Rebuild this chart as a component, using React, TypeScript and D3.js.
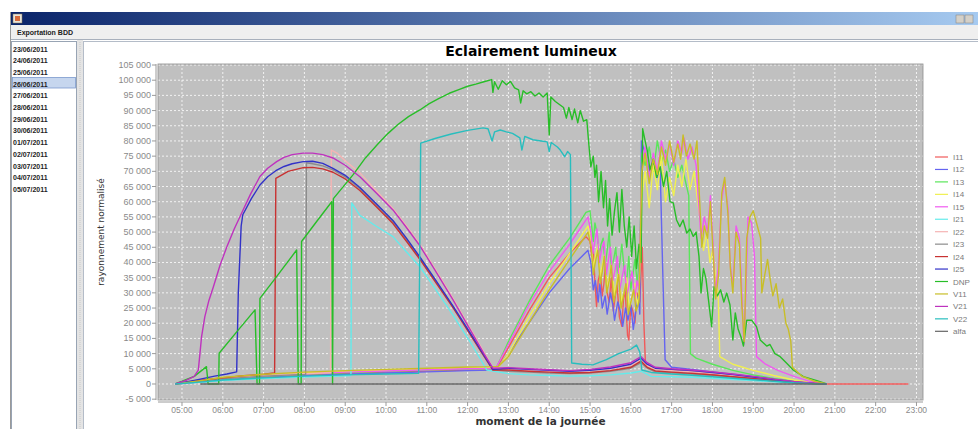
import * as d3 from 'd3'

type Pt = [number, number] // [hour of day, value]

const dates = ['23/06/2011', '24/06/2011', '25/06/2011', '26/06/2011', '27/06/2011', '28/06/2011', '29/06/2011',
  '30/06/2011', '01/07/2011', '02/07/2011', '03/07/2011', '04/07/2011', '05/07/2011']
const selectedDate = '26/06/2011'

const hourTicks = [5, 6, 7, 8, 9, 10, 11, 12, 13, 14, 15, 16, 17, 18, 19, 20, 21, 22, 23]
const valueTicks = [-5000, 0, 5000, 10000, 15000, 20000, 25000, 30000, 35000, 40000, 45000, 50000, 55000,
  60000, 65000, 70000, 75000, 80000, 85000, 90000, 95000, 100000, 105000]

const seriesNames = ['I11', 'I12', 'I13', 'I14', 'I15', 'I21', 'I22', 'I23', 'I24', 'I25', 'DNP', 'V11', 'V21', 'V22', 'alfa']
const seriesColors = ['#f05a5a', '#6464f0', '#5ae65a', '#f0f050', '#f05af0', '#64ebeb', '#f5b4b4', '#8c8c8c',
  '#c83232', '#3232c8', '#28be28', '#c8be28', '#be32be', '#28bebe', '#646464']

const I11: Pt[] = [[4.83, 0], [5.5, 800], [6, 1500], [7, 2400], [8, 3000], [9, 3500], [10, 3900], [11, 4300], [12, 4600], [12.6, 4700],
  [12.7, 5000], [13, 12000], [13.5, 24000], [14, 35000], [14.5, 43000], [14.9, 48500], [15.0, 47000],
  [15.04, 42000], [15.08, 44000], [15.13, 31000], [15.16, 25500], [15.2, 34000], [15.25, 37000], [15.3, 29000], [15.34, 33000],
  [15.38, 40000], [15.42, 30000], [15.47, 27000], [15.52, 35000], [15.57, 24000], [15.62, 29000], [15.66, 33000], [15.72, 22000],
  [15.78, 19000], [15.82, 28000], [15.86, 31000], [15.92, 16000], [15.95, 14500], [16.0, 26000], [16.05, 24000], [16.1, 20000],
  [16.15, 30000], [16.22, 27000], [16.28, 45000], [16.32, 20000], [16.36, 6000],
  [16.5, 5500], [17, 4500], [17.5, 4000], [18, 3200], [18.5, 2600], [19, 2000], [19.5, 1300], [20, 700], [20.5, 200], [20.8, 0], [22.8, 0]]

const I12: Pt[] = [[4.83, 0], [5.5, 700], [6, 1300], [7, 2100], [8, 2700], [9, 3200], [10, 3600], [11, 4000], [12, 4400], [12.6, 4600],
  [12.7, 4800], [13, 10000], [13.5, 20000], [14, 30000], [14.5, 38000], [14.95, 44000],
  [15.02, 40000], [15.08, 31000], [15.13, 34000], [15.2, 27000], [15.24, 33000], [15.3, 25000], [15.37, 29000], [15.42, 23000],
  [15.5, 30000], [15.56, 26000], [15.6, 21000], [15.68, 27000], [15.74, 24000], [15.8, 19000], [15.87, 25000], [15.93, 21000],
  [16.0, 26000], [16.06, 18000], [16.12, 24000], [16.18, 29000], [16.22, 23000],
  [16.26, 80000], [16.35, 76000], [16.45, 70000], [16.55, 73000], [16.65, 68000], [16.72, 70000], [16.78, 38000], [16.84, 8000],
  [17, 5500], [17.5, 4800], [18, 4000], [18.5, 3200], [19, 2400], [19.5, 1500], [20, 800], [20.5, 250], [20.8, 0]]

const I13: Pt[] = [[4.83, 0], [5.5, 900], [6, 1700], [7, 2600], [8, 3200], [9, 3800], [10, 4200], [11, 4600], [12, 4900], [12.6, 5000],
  [12.7, 5200], [13, 14000], [13.5, 27000], [14, 39000], [14.5, 48000], [14.9, 56500], [15.0, 57000],
  [15.04, 52000], [15.08, 47000], [15.12, 53000], [15.18, 49000], [15.22, 42000], [15.27, 46000], [15.32, 48000], [15.37, 39000],
  [15.42, 44000], [15.47, 50000], [15.52, 38000], [15.58, 41000], [15.63, 45000], [15.68, 35000], [15.73, 40000], [15.78, 46000],
  [15.84, 37000], [15.9, 34000], [15.95, 42000], [16.0, 31000], [16.05, 36000], [16.1, 41000], [16.16, 33000], [16.22, 44000],
  [16.27, 76000], [16.35, 72000], [16.45, 78000], [16.55, 70000], [16.65, 80000], [16.75, 73000], [16.85, 77000], [16.95, 70000],
  [17.05, 74000], [17.15, 68000], [17.25, 72000], [17.35, 66000], [17.42, 62000], [17.46, 10000],
  [17.6, 8500], [18, 6500], [18.5, 4500], [19, 3000], [19.5, 1800], [20, 900], [20.5, 300], [20.8, 0]]

const I14: Pt[] = [[4.83, 0], [5.5, 1000], [6, 1900], [7, 2900], [8, 3600], [9, 4100], [10, 4500], [11, 4900], [12, 5300], [12.6, 5400],
  [12.75, 5500], [13, 10000], [13.5, 22000], [14, 33000], [14.5, 43000], [14.95, 52000],
  [15.03, 47000], [15.08, 38000], [15.13, 42000], [15.2, 46000], [15.25, 35000], [15.3, 39000], [15.36, 43000], [15.42, 31000],
  [15.48, 36000], [15.53, 40000], [15.6, 29000], [15.65, 33000], [15.71, 38000], [15.77, 27000], [15.83, 30000], [15.9, 35000],
  [15.96, 25000], [16.02, 28000], [16.1, 33000], [16.16, 26000], [16.2, 29000],
  [16.27, 62000], [16.35, 70000], [16.45, 58000], [16.55, 72000], [16.65, 64000], [16.75, 75000], [16.85, 60000], [16.95, 68000],
  [17.05, 62000], [17.15, 72000], [17.25, 65000], [17.35, 74000], [17.45, 64000], [17.55, 70000], [17.62, 62000], [17.7, 54000],
  [17.78, 44000], [17.86, 50000], [17.94, 40000], [18.02, 45000], [18.08, 34000], [18.14, 30000], [18.18, 9000],
  [18.5, 6500], [19, 4500], [19.5, 2800], [20, 1300], [20.5, 400], [20.8, 0]]

const I15: Pt[] = [[4.83, 0], [5.5, 900], [6, 1700], [7, 2700], [8, 3300], [9, 3900], [10, 4300], [11, 4700], [12, 5000], [12.6, 5100],
  [12.7, 5400], [13, 13000], [13.5, 26000], [14, 37000], [14.5, 46000], [14.95, 55000],
  [15.02, 50000], [15.07, 43000], [15.12, 47000], [15.17, 51000], [15.23, 40000], [15.28, 44000], [15.34, 47000], [15.4, 36000],
  [15.45, 41000], [15.5, 45000], [15.56, 34000], [15.62, 38000], [15.67, 42000], [15.73, 31000], [15.78, 35000], [15.85, 39000],
  [15.9, 29000], [15.96, 33000], [16.03, 37000], [16.1, 28000], [16.15, 34000], [16.2, 31000],
  [16.27, 72000], [16.35, 78000], [16.45, 68000], [16.55, 76000], [16.65, 70000], [16.75, 80000], [16.85, 74000], [16.95, 79000],
  [17.05, 72000], [17.15, 80000], [17.25, 76000], [17.3, 81000], [17.4, 74000], [17.5, 78000], [17.6, 72000], [17.66, 60000],
  [17.72, 48000], [17.8, 55000], [17.88, 50000], [17.95, 62000], [18.02, 45000], [18.07, 30000], [18.14, 38000], [18.22, 60000],
  [18.3, 67000], [18.38, 58000], [18.43, 40000], [18.5, 32000], [18.58, 52000], [18.66, 48000], [18.72, 30000], [18.77, 13000],
  [18.82, 30000], [18.87, 55000], [18.96, 53000], [19.03, 42000], [19.08, 9000],
  [19.3, 6500], [19.6, 4500], [20, 2500], [20.4, 800], [20.8, 0]]

const I21: Pt[] = [[4.83, 0], [5.5, 600], [6, 1100], [7, 1800], [8, 2300], [9, 2700], [9.14, 2800],
  [9.16, 59600], [9.36, 55500], [9.75, 52000], [10.17, 48500], [10.5, 43500], [10.83, 38600], [11.2, 31500], [11.65, 22500],
  [12.1, 13000], [12.47, 4600],
  [13, 3400], [13.5, 3000], [14, 2800], [14.5, 2600], [15, 2700], [15.5, 3000], [16, 3600], [16.25, 4200], [16.5, 2500], [17, 2400],
  [17.5, 2200], [18, 1900], [18.5, 1500], [19, 1100], [19.5, 700], [20, 400], [20.5, 100], [20.8, 0]]

const I22: Pt[] = [[4.83, 0], [5.5, 1100], [6, 1900], [7, 2800], [8, 3400], [8.64, 3700],
  [8.66, 77000], [8.8, 76000], [9.0, 73500], [9.36, 69500], [9.75, 63800], [10.17, 57800], [10.5, 52000], [10.83, 46000],
  [11.2, 38000], [11.65, 28000], [12.1, 17500], [12.4, 10500], [12.62, 5300],
  [13, 5000], [13.5, 4600], [14, 4300], [14.5, 4000], [15, 4300], [15.5, 5000], [16, 6200], [16.25, 8000], [16.4, 6000], [16.6, 4800],
  [17, 4400], [17.5, 4000], [18, 3500], [18.5, 2800], [19, 2100], [19.5, 1300], [20, 600], [20.5, 200], [20.8, 0]]

const I23: Pt[] = [[4.83, 0], [5.5, 1000], [6, 1700], [7, 2600], [7.7, 3000], [8.03, 3100],
  [8.05, 72800], [8.2, 72500], [8.45, 71800], [8.7, 70500], [9.0, 68200], [9.36, 64300], [9.75, 59000], [10.17, 53300],
  [10.5, 47500], [10.83, 41400], [11.2, 34200], [11.65, 25300], [12.1, 15800], [12.4, 9300], [12.62, 4700],
  [13, 4200], [13.5, 3900], [14, 3600], [14.5, 3400], [15, 3600], [15.5, 4200], [16, 5200], [16.25, 7000], [16.4, 5200], [16.6, 4000],
  [17, 3700], [17.5, 3300], [18, 2800], [18.5, 2200], [19, 1600], [19.5, 1000], [20, 450], [20.5, 120], [20.8, 0]]

const I24: Pt[] = [[4.83, 0], [5.5, 1300], [6, 2000], [6.5, 2700], [7, 3200], [7.27, 3600],
  [7.3, 67700], [7.6, 70000], [7.97, 71200], [8.2, 71300], [8.45, 70800], [8.7, 69700], [9.0, 67500], [9.36, 63700],
  [9.75, 58500], [10.17, 52800], [10.5, 47000], [10.83, 41000], [11.2, 33800], [11.65, 25000], [12.1, 15500], [12.4, 9200], [12.62, 4600],
  [13, 4600], [13.5, 4200], [14, 3900], [14.5, 3600], [15, 3800], [15.5, 4400], [16, 5500], [16.25, 7500], [16.4, 5500], [16.6, 4300],
  [17, 3900], [17.5, 3500], [18, 3000], [18.5, 2400], [19, 1800], [19.5, 1100], [20, 500], [20.5, 150], [20.8, 0]]

const I25: Pt[] = [[4.83, 0], [5.3, 1200], [5.8, 2600], [6.1, 3300], [6.34, 4000],
  [6.38, 30000], [6.45, 52000], [6.49, 55700], [6.7, 61000], [6.91, 65500], [7.1, 68200], [7.3, 70200], [7.5, 71600], [7.7, 72500],
  [7.97, 73200], [8.2, 73300], [8.45, 72600], [8.7, 71000], [9.0, 68700], [9.36, 64700], [9.75, 59500], [10.17, 53800],
  [10.5, 48000], [10.83, 41800], [11.2, 34500], [11.65, 25500], [12.1, 16000], [12.4, 9500], [12.62, 4800],
  [13, 5200], [13.5, 4800], [14, 4500], [14.5, 4200], [15, 4500], [15.5, 5200], [16, 6500], [16.25, 8500], [16.4, 6500], [16.6, 5200],
  [17, 4800], [17.5, 4400], [18, 3800], [18.5, 3100], [19, 2300], [19.5, 1500], [20, 700], [20.5, 200], [20.8, 0]]

const DNP: Pt[] = [[4.83, 0], [5.3, 2500], [5.6, 5700], [5.64, 0], [5.9, 0], [5.91, 10100], [6.3, 16500], [6.79, 24400], [6.84, 0],
  [6.9, 0], [6.91, 28200], [7.3, 35000], [7.81, 44100], [7.85, 0], [7.92, 0], [7.93, 46900], [8.3, 53500], [8.67, 60000],
  [8.69, 0], [8.71, 61000], [9.2, 69000], [9.5, 74500], [9.8, 79000], [10.05, 82500], [10.3, 85500], [10.55, 88000], [10.83, 90200],
  [11.05, 92200], [11.3, 94000], [11.55, 95700], [11.8, 97000], [12.0, 98000], [12.2, 98700], [12.4, 99500],
  [12.59, 100200], [12.62, 96000], [12.66, 99500], [12.75, 97000], [12.85, 99800], [12.95, 98500], [13.05, 99600], [13.15, 97500],
  [13.25, 96800], [13.3, 92500], [13.36, 96500], [13.45, 95500], [13.55, 96200], [13.65, 94800], [13.75, 95800], [13.85, 94500],
  [13.95, 95800], [14.0, 82000], [14.04, 94500], [14.15, 93000], [14.25, 92000], [14.35, 91000], [14.42, 87500], [14.48, 91000],
  [14.56, 87000], [14.62, 90500], [14.7, 86000], [14.76, 90000], [14.84, 86500], [14.92, 87000], [14.97, 79000], [15.02, 71500],
  [15.08, 75000], [15.12, 68000], [15.16, 72000], [15.21, 60000], [15.27, 70000], [15.33, 58000], [15.38, 67000], [15.43, 52000],
  [15.48, 61000], [15.54, 49000], [15.6, 57000], [15.66, 63000], [15.72, 50000], [15.78, 64000], [15.84, 52000], [15.9, 45000],
  [15.96, 55000], [16.02, 42000], [16.08, 52000], [16.14, 38000], [16.2, 46000], [16.25, 40000], [16.29, 84000], [16.35, 80000],
  [16.4, 77000], [16.47, 70500], [16.55, 74000], [16.63, 68000], [16.72, 71500], [16.8, 65000], [16.88, 70000], [16.96, 60000],
  [17.04, 59600], [17.12, 54000], [17.2, 51800], [17.28, 54000], [17.37, 49700], [17.45, 51000], [17.53, 48600], [17.6, 50000],
  [17.67, 42000], [17.72, 30000], [17.78, 38000], [17.84, 34700], [17.9, 28000], [17.98, 18900], [18.04, 32000], [18.12, 29000],
  [18.2, 31000], [18.28, 27000], [18.35, 30000], [18.43, 26000], [18.5, 14500], [18.56, 23400], [18.63, 18000], [18.7, 15500],
  [18.76, 12500], [18.84, 21000], [18.96, 21000], [19.08, 18900], [19.17, 14500], [19.25, 13500], [19.33, 12500], [19.41, 13000],
  [19.53, 10000], [19.66, 9000], [19.82, 6800], [19.98, 4600], [20.23, 2400], [20.56, 1100], [20.8, 0]]

const V11: Pt[] = [[4.83, 0], [5.5, 1200], [6, 2200], [7, 3200], [8, 3900], [9, 4400], [10, 4800], [11, 5200], [12, 5600], [12.6, 5700],
  [12.75, 5800], [13, 9000], [13.5, 20000], [14, 31000], [14.5, 41000], [14.95, 50000],
  [15.03, 45000], [15.08, 36000], [15.13, 40000], [15.19, 44000], [15.25, 33000], [15.3, 37000], [15.35, 42000], [15.41, 30000],
  [15.47, 34000], [15.52, 39000], [15.58, 27000], [15.64, 31000], [15.7, 36000], [15.76, 25000], [15.82, 29000], [15.88, 33000],
  [15.94, 23000], [16.0, 27000], [16.07, 31000], [16.13, 24000], [16.2, 27000],
  [16.27, 70000], [16.35, 76000], [16.45, 66000], [16.55, 74000], [16.65, 69000], [16.75, 78000], [16.85, 72000], [16.95, 80000],
  [17.05, 73000], [17.15, 79000], [17.22, 74000], [17.28, 82000], [17.36, 75000], [17.45, 79000], [17.55, 74000], [17.62, 80000],
  [17.68, 62000], [17.74, 45000], [17.8, 52000], [17.88, 48000], [17.95, 60000], [18.02, 42000], [18.08, 28000], [18.15, 36000],
  [18.23, 63000], [18.3, 68000], [18.38, 56000], [18.44, 38000], [18.5, 30000], [18.58, 50000], [18.66, 46000], [18.72, 26000],
  [18.78, 14000], [18.84, 48000], [18.92, 55000], [19.0, 57000], [19.1, 52000], [19.18, 48000], [19.21, 30000], [19.27, 35000],
  [19.35, 41000], [19.42, 34000], [19.48, 29000], [19.56, 33000], [19.64, 25000], [19.72, 28000], [19.8, 20000], [19.86, 18000],
  [19.92, 14000], [19.96, 5500], [20.2, 2500], [20.5, 900], [20.8, 0]]

const V21: Pt[] = [[4.83, 0], [5.1, 1200], [5.3, 2500], [5.4, 4600], [5.44, 10000], [5.48, 15600], [5.56, 22200], [5.66, 27500],
  [5.77, 32000], [5.93, 39000], [6.1, 45200], [6.28, 51000], [6.46, 56200], [6.68, 62500], [6.91, 68300], [7.1, 71000],
  [7.32, 73200], [7.5, 74600], [7.7, 75500], [7.97, 76000], [8.2, 76000], [8.45, 75500], [8.7, 74400], [9.0, 72000],
  [9.36, 68200], [9.75, 63000], [10.17, 57300], [10.5, 51500], [10.83, 45500], [11.2, 37500], [11.65, 27500], [12.1, 17000],
  [12.4, 10000], [12.62, 5200],
  [13, 5400], [13.5, 5000], [14, 4700], [14.5, 4400], [15, 4800], [15.5, 5600], [16, 7000], [16.25, 9000], [16.4, 7000], [16.6, 5500],
  [17, 5000], [17.5, 4600], [18, 4000], [18.5, 3300], [19, 2500], [19.5, 1600], [20, 800], [20.5, 250], [20.8, 0]]

const V22: Pt[] = [[4.83, 0], [5.5, 700], [6, 1300], [7, 2000], [8, 2600], [9, 3000], [10, 3300], [10.8, 3500],
  [10.85, 79300], [11.2, 80800], [11.6, 82300], [12.0, 83500], [12.38, 84300], [12.5, 84000], [12.6, 80000], [12.66, 83000],
  [12.8, 83600], [12.95, 83000], [13.1, 82500], [13.28, 81000], [13.33, 77000], [13.4, 81500], [13.6, 80400], [13.8, 80000],
  [13.95, 79700], [14.0, 76500], [14.05, 79500], [14.2, 78000], [14.27, 77000], [14.38, 74800], [14.45, 76500], [14.52, 75500],
  [14.55, 6900], [14.8, 6500], [15.07, 6300], [15.4, 8000], [15.7, 10000], [16.0, 11500], [16.14, 12800], [16.22, 10500],
  [16.27, 4600], [16.5, 3800], [17, 3300], [17.5, 2900], [18, 2400], [18.5, 1900], [19, 1400], [19.5, 900], [20, 400], [20.5, 100], [20.8, 0]]

const alfa: Pt[] = [[5.45, 0], [20.8, 0]]

const seriesData = [I11, I12, I13, I14, I15, I21, I22, I23, I24, I25, DNP, V11, V21, V22, alfa]

const W = 978
const H = 429
const plot = { left: 158, right: 923, top: 64, bottom: 400 }

const fmtValue = (v: number) => d3.format(',')(v).replace(/,/g, ' ').replace('−', '-')
const fmtHour = (h: number) => `${String(h).padStart(2, '0')}:00`

export default function App() {
  const x = d3.scaleLinear().domain([4.412, 23.16]).range([plot.left, plot.right])
  const y = d3.scaleLinear().domain([-5270, 105330]).range([plot.bottom, plot.top])
  const line = d3.line<Pt>().x(d => x(d[0])).y(d => y(d[1]))
  const sans = 'Liberation Sans, Arial, sans-serif'
  const wide = 'DejaVu Sans, Verdana, sans-serif'

  return (
    <svg width={W} height={H} style={{ position: 'absolute', left: 0, top: 0, background: '#fff' }} fontFamily={sans}>
      <defs>
        <linearGradient id="titlebar" x1="0" x2="1" y1="0" y2="0">
          <stop offset="0" stopColor="#0a246a" />
          <stop offset="1" stopColor="#a6caf0" />
        </linearGradient>
        <clipPath id="plotClip">
          <rect x={plot.left} y={plot.top} width={plot.right - plot.left} height={plot.bottom - plot.top} />
        </clipPath>
      </defs>

      {/* window frame */}
      <rect x={10} y={12} width={968} height={13} fill="url(#titlebar)" />
      <rect x={13} y={14} width={9} height={9} fill="#e8e4d8" stroke="#8a7a5a" strokeWidth={0.5} />
      <rect x={15} y={16} width={5} height={5} fill="#d86a3a" />
      <rect x={956} y={15} width={8} height={8} fill="#d4d0c8" stroke="#808080" strokeWidth={0.5} />
      <rect x={965} y={15} width={8} height={8} fill="#d4d0c8" stroke="#808080" strokeWidth={0.5} />
      <rect x={10} y={25} width={968} height={14} fill="#efefef" />
      <text x={17} y={35} fontSize={7} fontWeight="bold" fill="#222">Exportation BDD</text>
      <line x1={10} x2={978} y1={39.5} y2={39.5} stroke="#a8b0bc" />
      <line x1={10.5} x2={10.5} y1={12} y2={H} stroke="#9a9a9a" />

      {/* date list */}
      <rect x={11.5} y={41.5} width={65} height={H} fill="#fff" stroke="#98a4b4" />
      {dates.map((d, i) => (
        <g key={d}>
          {d === selectedDate && (
            <rect x={12.5} y={77.5 + (i - 3) * 11.7} width={63} height={10.5} fill="#c6d6ee" stroke="#7a9acc" strokeWidth={0.8} />
          )}
          <text x={13} y={51.5 + i * 11.7} fontSize={7} fontWeight="bold" fill="#222">{d}</text>
        </g>
      ))}
      <rect x={77} y={40} width={6} height={H} fill="#e4e4e4" />
      <line x1={80} x2={80} y1={42} y2={H} stroke="#c8c8c8" strokeDasharray="1,1" />

      {/* chart panel */}
      <rect x={83.5} y={41.5} width={900} height={H} fill="#fff" stroke="#b4bcc8" />
      <text x={531} y={56} textAnchor="middle" fontFamily={wide} fontWeight="bold" fontSize={14} fill="#000">
        Eclairement lumineux
      </text>

      <rect x={plot.left} y={plot.top} width={plot.right - plot.left} height={plot.bottom - plot.top} fill="#c0c0c0" />
      {hourTicks.map(h => (
        <line key={`gx${h}`} x1={x(h)} x2={x(h)} y1={plot.top} y2={plot.bottom} stroke="#fff" strokeWidth={0.8} strokeDasharray="2,2" />
      ))}
      {valueTicks.map(v => (
        <line key={`gy${v}`} x1={plot.left} x2={plot.right} y1={y(v)} y2={y(v)} stroke="#fff" strokeWidth={0.8} strokeDasharray="2,2" />
      ))}

      <g clipPath="url(#plotClip)" fill="none" strokeWidth={1.4} strokeLinejoin="round">
        {seriesData.map((d, i) => (
          <path key={seriesNames[i]} d={line(d) ?? ''} stroke={seriesColors[i]} />
        ))}
      </g>
      <rect x={plot.left} y={plot.top} width={plot.right - plot.left} height={plot.bottom - plot.top} fill="none" stroke="#8c8c8c" strokeWidth={0.8} />

      {/* y axis */}
      <line x1={156} x2={156} y1={plot.top} y2={plot.bottom} stroke="#9a9a9a" />
      {valueTicks.map(v => (
        <g key={`ty${v}`}>
          <line x1={152} x2={156} y1={y(v)} y2={y(v)} stroke="#9a9a9a" />
          <text x={151} y={y(v) + 3} textAnchor="end" fontSize={9} fill="#8a8a8a">{fmtValue(v)}</text>
        </g>
      ))}
      <text transform={`translate(104,${(plot.top + plot.bottom) / 2}) rotate(-90)`} textAnchor="middle" fontFamily={wide} fontSize={9} fill="#333">
        rayonnement normalisé
      </text>

      {/* x axis */}
      <line x1={plot.left} x2={plot.right} y1={402} y2={402} stroke="#9a9a9a" />
      {hourTicks.map(h => (
        <g key={`tx${h}`}>
          <line x1={x(h)} x2={x(h)} y1={402} y2={406} stroke="#9a9a9a" />
          <text x={x(h)} y={413} textAnchor="middle" fontSize={8.5} fill="#8a8a8a">{fmtHour(h)}</text>
        </g>
      ))}
      <text x={(plot.left + plot.right) / 2} y={425} textAnchor="middle" fontFamily={wide} fontWeight="bold" fontSize={10.5} fill="#333">
        moment de la journée
      </text>

      {/* legend */}
      {seriesNames.map((n, i) => (
        <g key={`lg${n}`} transform={`translate(0,${157 + i * 12.45})`}>
          <line x1={935} x2={948} y1={0} y2={0} stroke={seriesColors[i]} strokeWidth={1.2} />
          <text x={953} y={3} fontSize={8} fill="#7a7a7a">{n}</text>
        </g>
      ))}
    </svg>
  )
}
